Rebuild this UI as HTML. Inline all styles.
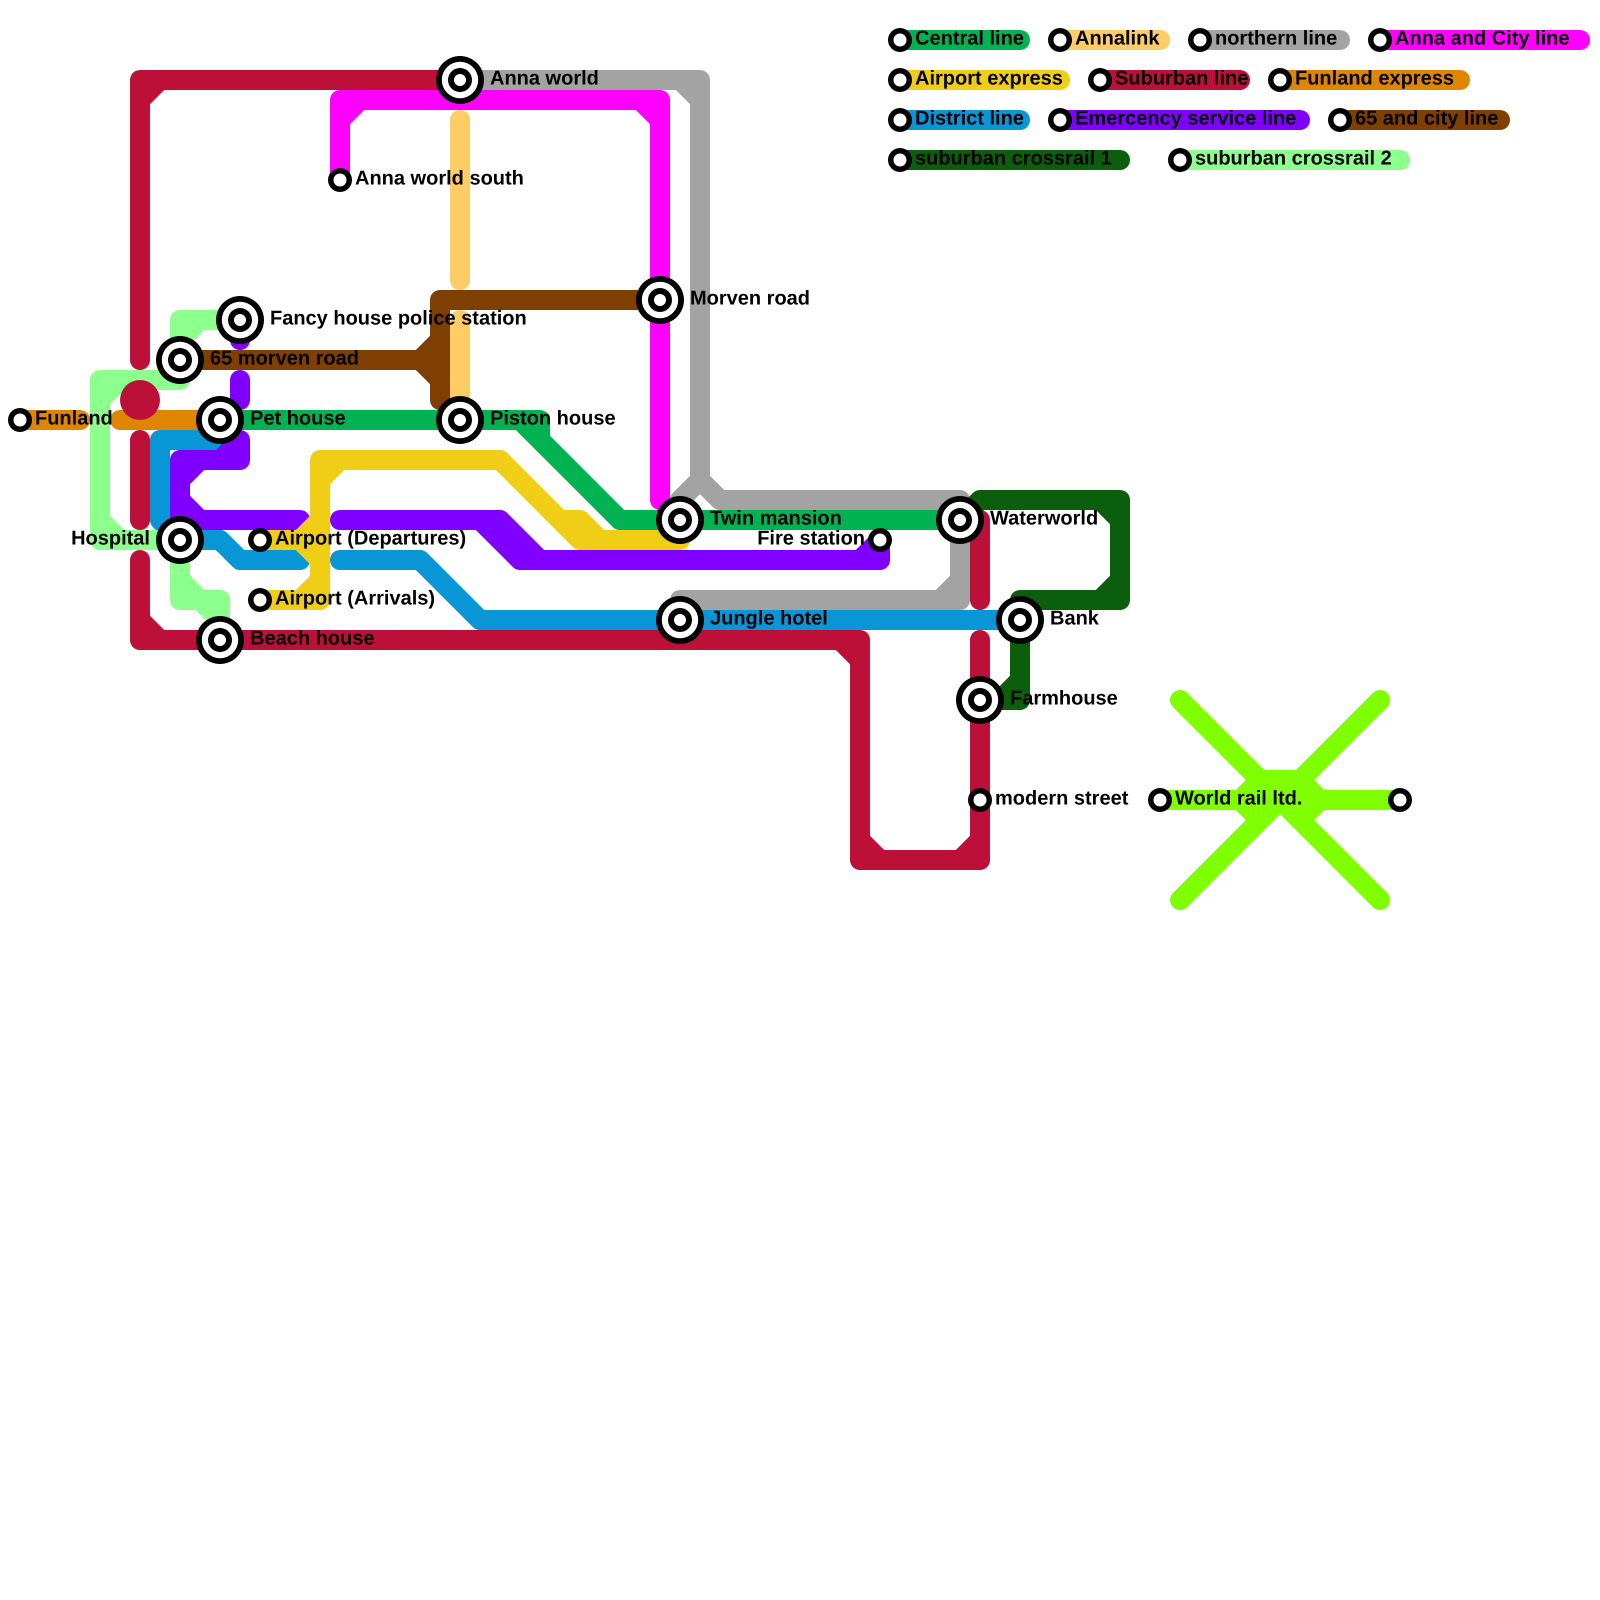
<!DOCTYPE html>
<html>
<head>
<meta charset="utf-8">
<style>
html,body{margin:0;padding:0;background:#fff;}
svg{display:block;}
text{font-family:"Liberation Sans",sans-serif;font-weight:bold;font-size:20px;fill:#000;text-rendering:geometricPrecision;}
.l path{fill:none;stroke-width:20;stroke-linecap:round;stroke-linejoin:round;}
</style>
</head>
<body>
<svg width="1600" height="1600" viewBox="0 0 1600 1600" xmlns="http://www.w3.org/2000/svg">
<rect width="1600" height="1600" fill="#fff"/>
<defs>
<g id="b"><circle r="24" fill="#000"/><circle r="18.2" fill="#fff"/><circle r="12" fill="#000"/><circle r="6" fill="#fff"/></g>
<g id="s"><circle r="12" fill="#000"/><circle r="6.5" fill="#fff"/></g>
</defs>
<g class="l">
<!-- District -->
<path stroke="#0896D7" d="M220 440H160V520L180 540H220L240 560H300M340 560H420L480 620H1020"/>
<!-- Emergency -->
<path stroke="#8000FF" d="M240 320V340M240 380V400M240 440V460H180V520H300M220 460L240 440M180 480L200 460M180 500L200 520M340 520H500L540 560H880V540M480 520L520 560H540M860 560L880 540"/>
<!-- Suburban -->
<path stroke="#BD1038" d="M140 360V80H460M140 100L160 80M140 440V520M140 560V640H860V860H980V640M140 620L160 640M840 640L860 660M860 840L880 860M960 860L980 840M980 520V600"/>
<!-- Crossrail 2 -->
<path stroke="#8CFF8C" d="M240 320H180V360M180 340L200 320M180 380H100V540H180M100 400L120 380M100 520L120 540M180 540V600H220V640M180 580L200 600M200 600L220 620"/>
<!-- Funland -->
<path stroke="#DF8600" d="M20 420H80M120 420H220"/>
<!-- Central -->
<path stroke="#00B251" d="M220 420H540V440L620 520H960M520 420L620 520"/>
<!-- northern -->
<path stroke="#A3A3A3" d="M460 80H700V480L720 500H960V600H680M680 80L700 100M700 480L680 500M940 600L960 580"/>
<!-- Anna and City -->
<path stroke="#FF00FF" d="M340 180V100H660V500M340 120L360 100M640 100L660 120"/>
<!-- 65 and city -->
<path stroke="#7F3F00" d="M180 360H440M420 360L440 340M420 360L440 380M660 300H440V400"/>
<!-- Annalink -->
<path stroke="#FFCC66" d="M460 120V280M460 320V400"/>
<!-- Airport -->
<path stroke="#F0CE15" d="M260 540H300L320 520M300 540L320 560M260 600H320V460H500L580 540H680M320 480L340 460M300 600L320 580M560 520H580L600 540"/>
<!-- Crossrail 1 -->
<path stroke="#0B5E0B" d="M960 520L980 500H1120V600H1020V700H980M1100 500L1120 520M1120 580L1100 600M1020 680L1000 700"/>
<!-- World rail -->
<path stroke="#80FF00" d="M1160 800H1400M1180 700L1380 900M1380 700L1180 900M1260 780H1300L1320 800L1300 820M1260 780L1240 800L1260 820"/>
<!-- Legend lines -->
<path stroke="#00B251" d="M900 40H1020"/>
<path stroke="#FFCC66" d="M1060 40H1160"/>
<path stroke="#A3A3A3" d="M1200 40H1340"/>
<path stroke="#FF00FF" d="M1380 40H1580"/>
<path stroke="#F0CE15" d="M900 80H1060"/>
<path stroke="#BD1038" d="M1100 80H1240"/>
<path stroke="#DF8600" d="M1280 80H1460"/>
<path stroke="#0896D7" d="M900 120H1020"/>
<path stroke="#8000FF" d="M1060 120H1300"/>
<path stroke="#7F3F00" d="M1340 120H1500"/>
<path stroke="#0B5E0B" d="M900 160H1120"/>
<path stroke="#8CFF8C" d="M1180 160H1400"/>
</g>
<circle cx="140" cy="400" r="20" fill="#BD1038"/>
<!-- Stations -->
<use href="#b" x="460" y="80"/>
<use href="#b" x="240" y="320"/>
<use href="#b" x="180" y="360"/>
<use href="#b" x="220" y="420"/>
<use href="#b" x="460" y="420"/>
<use href="#b" x="660" y="300"/>
<use href="#b" x="680" y="520"/>
<use href="#b" x="960" y="520"/>
<use href="#b" x="180" y="540"/>
<use href="#b" x="220" y="640"/>
<use href="#b" x="680" y="620"/>
<use href="#b" x="1020" y="620"/>
<use href="#b" x="980" y="700"/>
<use href="#s" x="20" y="420"/>
<use href="#s" x="340" y="180"/>
<use href="#s" x="260" y="540"/>
<use href="#s" x="260" y="600"/>
<use href="#s" x="880" y="540"/>
<use href="#s" x="980" y="800"/>
<use href="#s" x="1160" y="800"/>
<use href="#s" x="1400" y="800"/>
<use href="#s" x="900" y="40"/>
<use href="#s" x="1060" y="40"/>
<use href="#s" x="1200" y="40"/>
<use href="#s" x="1380" y="40"/>
<use href="#s" x="900" y="80"/>
<use href="#s" x="1100" y="80"/>
<use href="#s" x="1280" y="80"/>
<use href="#s" x="900" y="120"/>
<use href="#s" x="1060" y="120"/>
<use href="#s" x="1340" y="120"/>
<use href="#s" x="900" y="160"/>
<use href="#s" x="1180" y="160"/>
<!-- Labels -->
<text x="490" y="84.5">Anna world</text>
<text x="355" y="184.5">Anna world south</text>
<text x="270" y="324.5">Fancy house police station</text>
<text x="210" y="364.5">65 morven road</text>
<text x="690" y="304.5">Morven road</text>
<text x="35" y="424.5">Funland</text>
<text x="250" y="424.5">Pet house</text>
<text x="490" y="424.5">Piston house</text>
<text x="710" y="524.5">Twin mansion</text>
<text x="990" y="524.5">Waterworld</text>
<text x="150" y="544.5" text-anchor="end">Hospital</text>
<text x="275" y="544.5">Airport (Departures)</text>
<text x="865" y="544.5" text-anchor="end">Fire station</text>
<text x="275" y="604.5">Airport (Arrivals)</text>
<text x="710" y="624.5">Jungle hotel</text>
<text x="1050" y="624.5">Bank</text>
<text x="250" y="644.5">Beach house</text>
<text x="1010" y="704.5">Farmhouse</text>
<text x="995" y="804.5">modern street</text>
<text x="1175" y="804.5">World rail ltd.</text>
<text x="915" y="44.5">Central line</text>
<text x="1075" y="44.5">Annalink</text>
<text x="1215" y="44.5">northern line</text>
<text x="1395" y="44.5">Anna and City line</text>
<text x="915" y="84.5">Airport express</text>
<text x="1115" y="84.5">Suburban line</text>
<text x="1295" y="84.5">Funland express</text>
<text x="915" y="124.5">District line</text>
<text x="1075" y="124.5">Emercency service line</text>
<text x="1355" y="124.5">65 and city line</text>
<text x="915" y="164.5">suburban crossrail 1</text>
<text x="1195" y="164.5">suburban crossrail 2</text>
</svg>
</body>
</html>
